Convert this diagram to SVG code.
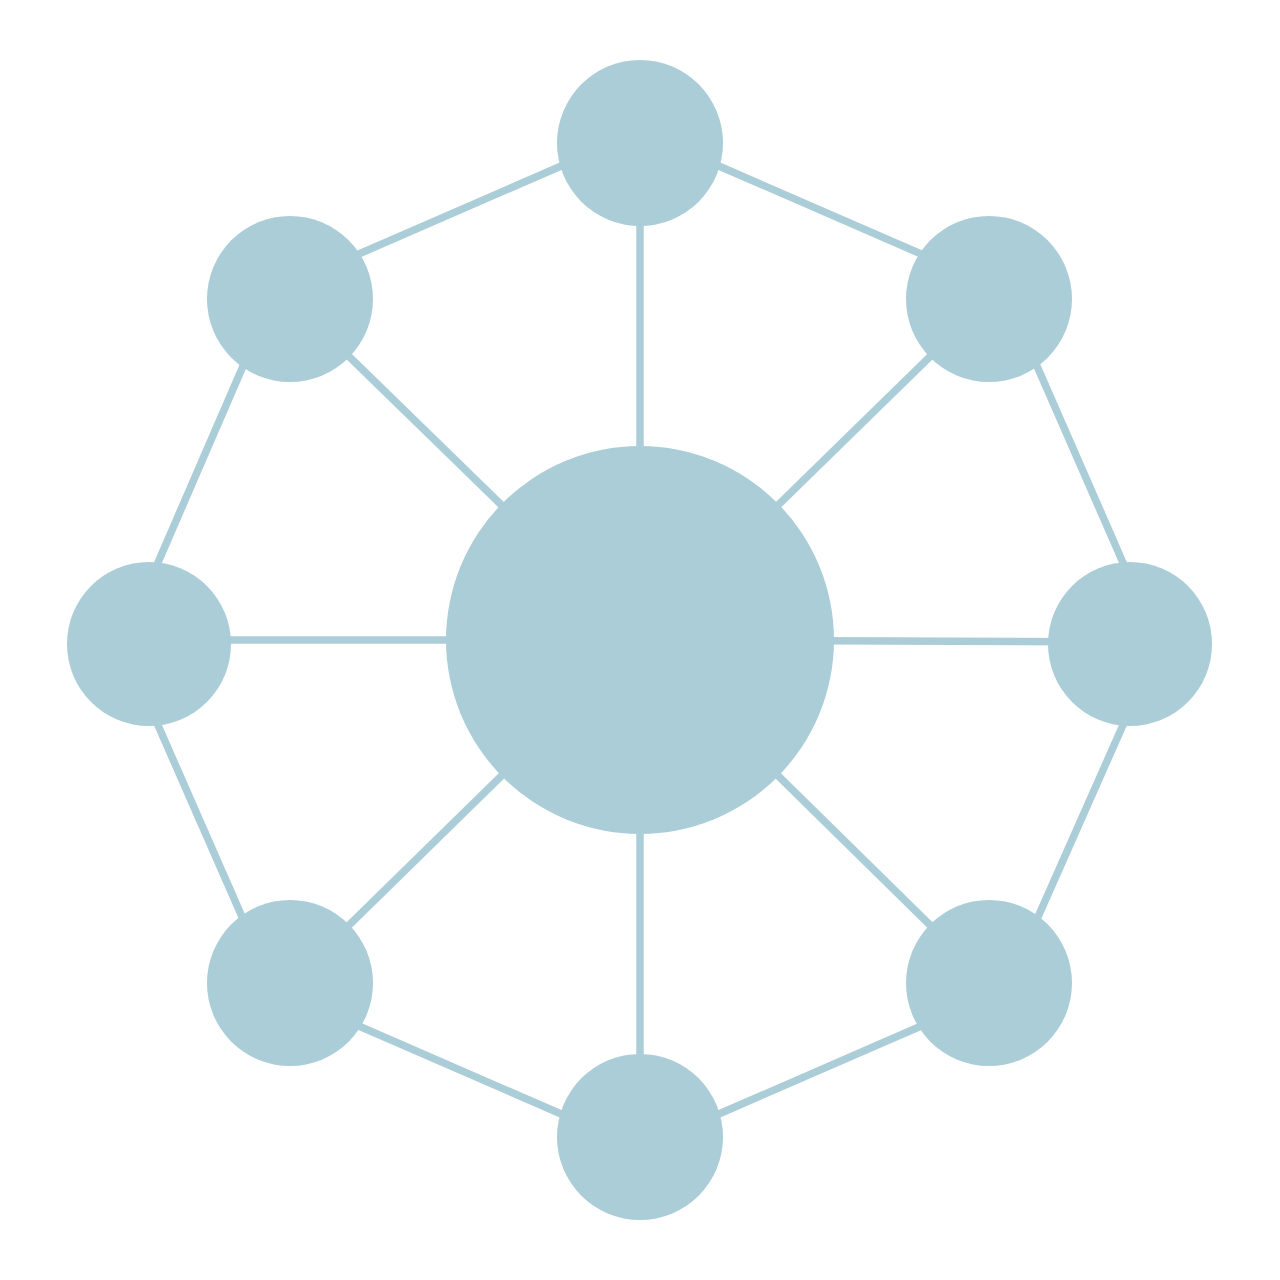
<svg xmlns="http://www.w3.org/2000/svg" width="1280" height="1280" viewBox="0 0 1280 1280">
<style>
.n{fill:#abcdd8}
.e{stroke:#abcdd8;stroke-width:7.5;fill:none}
</style>
<rect width="1280" height="1280" fill="#ffffff"/>
<g id="connectors">
<line class="e" x1="640" y1="640" x2="640" y2="143"/>
<line class="e" x1="640" y1="640" x2="290" y2="299"/>
<line class="e" x1="640" y1="640" x2="989" y2="299"/>
<line class="e" x1="640" y1="640" x2="149" y2="640"/>
<line class="e" x1="640" y1="640" x2="1130" y2="642"/>
<line class="e" x1="640" y1="640" x2="290" y2="983"/>
<line class="e" x1="640" y1="640" x2="989" y2="983"/>
<line class="e" x1="640" y1="640" x2="640" y2="1137"/>
<line class="e" x1="345" y1="260" x2="575" y2="160"/>
<line class="e" x1="705" y1="160" x2="935" y2="260"/>
<line class="e" x1="1030" y1="350" x2="1131" y2="581"/>
<line class="e" x1="1131" y1="707" x2="1030" y2="935"/>
<line class="e" x1="935" y1="1020" x2="705" y2="1120"/>
<line class="e" x1="575" y1="1120" x2="345" y2="1020"/>
<line class="e" x1="250" y1="935" x2="150" y2="707"/>
<line class="e" x1="150" y1="581" x2="250" y2="350"/>
</g>
<g id="node-center"><circle class="n" cx="640" cy="640" r="194"/></g>
<g id="node-top"><circle class="n" cx="640" cy="143" r="83"/></g>
<g id="node-top-right"><circle class="n" cx="989" cy="299" r="83"/></g>
<g id="node-right"><circle class="n" cx="1130" cy="644" r="82"/></g>
<g id="node-bottom-right"><circle class="n" cx="989" cy="983" r="83"/></g>
<g id="node-bottom"><circle class="n" cx="640" cy="1137" r="83"/></g>
<g id="node-bottom-left"><circle class="n" cx="290" cy="983" r="83"/></g>
<g id="node-left"><circle class="n" cx="149" cy="644" r="82"/></g>
<g id="node-top-left"><circle class="n" cx="290" cy="299" r="83"/></g>
</svg>
